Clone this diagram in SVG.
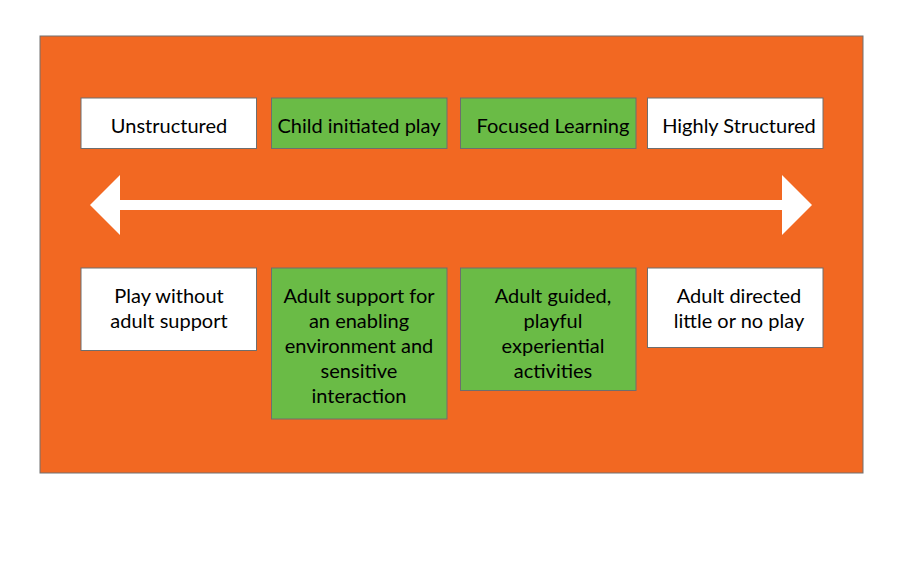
<svg xmlns="http://www.w3.org/2000/svg" width="904" height="580" viewBox="0 0 904 580">
<style>
.bg{fill:#F26822;stroke:#707070;stroke-width:1}
.w{fill:#FFFFFF;stroke:#6E6E6E;stroke-width:1}
.g{fill:#6ABB46;stroke:#6E6E6E;stroke-width:1}
text{font-family:Lato,"Liberation Sans",sans-serif;font-size:20px;fill:#000;text-anchor:middle}
</style>
<rect width="904" height="580" fill="#FFFFFF"/>
<rect class="bg" x="40" y="36" width="823" height="437"/>
<g id="connectors">
<polygon fill="#FFFFFF" points="90,205 120,175 120,200 782,200 782,175 812,205 782,235 782,210 120,210 120,235"/>
</g>
<g id="n-unstructured"><rect class="w" x="81" y="98" width="175.5" height="50.5"/><text x="169" y="132.5">Unstructured</text></g>
<g id="n-child"><rect class="g" x="271.5" y="98" width="175.5" height="50.5"/><text x="359" y="132.5">Child initiated play</text></g>
<g id="n-focused"><rect class="g" x="460.5" y="98" width="175.5" height="50.5"/><text x="553" y="132.5">Focused Learning</text></g>
<g id="n-highly"><rect class="w" x="647.5" y="98" width="175.5" height="50.5"/><text x="739" y="132.5">Highly Structured</text></g>
<g id="n-play"><rect class="w" x="81" y="268" width="175.5" height="82.5"/><text x="169" y="302.5"><tspan x="169">Play without</tspan><tspan x="169" dy="25">adult support</tspan></text></g>
<g id="n-adultsupport"><rect class="g" x="271.5" y="268" width="175.5" height="151"/><text x="359" y="302.5"><tspan x="359">Adult support for</tspan><tspan x="359" dy="25">an enabling</tspan><tspan x="359" dy="25">environment and</tspan><tspan x="359" dy="25">sensitive</tspan><tspan x="359" dy="25">interaction</tspan></text></g>
<g id="n-adultguided"><rect class="g" x="460.5" y="268" width="175.5" height="122.5"/><text x="553" y="302.5"><tspan x="553">Adult guided,</tspan><tspan x="553" dy="25">playful</tspan><tspan x="553" dy="25">experiential</tspan><tspan x="553" dy="25">activities</tspan></text></g>
<g id="n-adultdirected"><rect class="w" x="647.5" y="268" width="175.5" height="79.5"/><text x="739" y="302.5"><tspan x="739">Adult directed</tspan><tspan x="739" dy="25">little or no play</tspan></text></g>
</svg>
